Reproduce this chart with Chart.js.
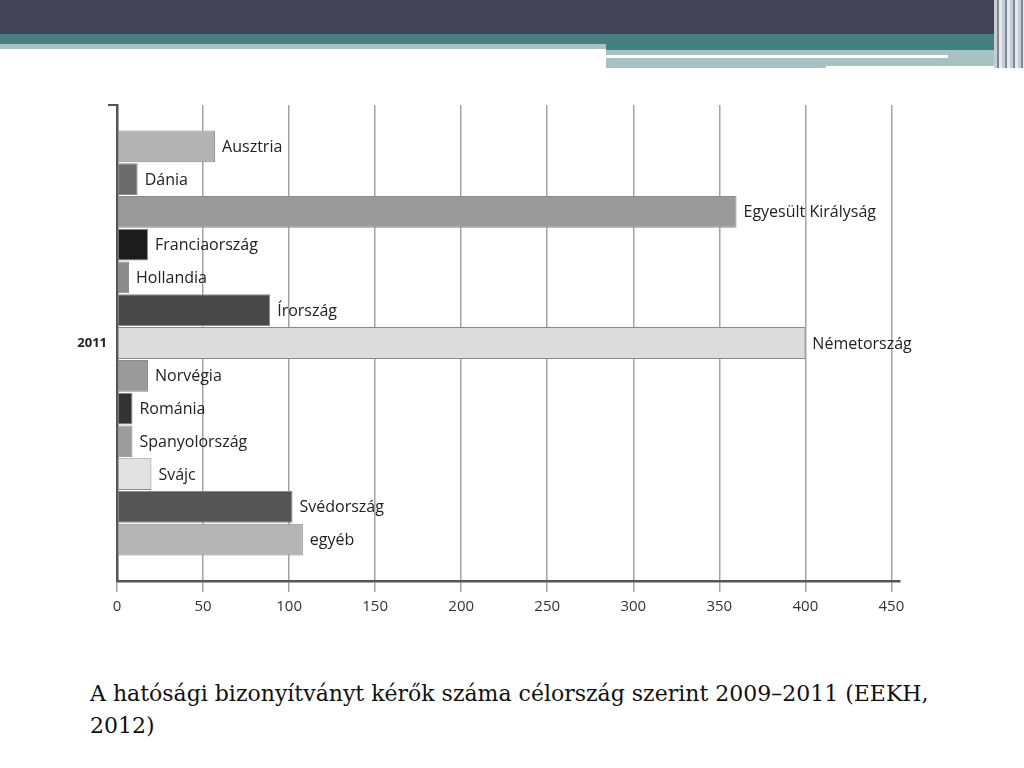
<!DOCTYPE html>
<html>
<head>
<meta charset="utf-8">
<script src="https://cdn.jsdelivr.net/npm/chart.js@4"></script>
<style>
  body { margin: 0; width: 1024px; height: 768px; position: relative; background: #fff; overflow: hidden; }
  .band { position: absolute; }
  #chartBox { position: absolute; left: 0; top: 0; width: 1024px; height: 660px; }
  .caption { position: absolute; left: 90px; top: 678px; white-space: nowrap; font-family: "DejaVu Serif", serif; font-size: 22px; line-height: 32px; color: #111; }
</style>
</head>
<body>
<div class="band" style="left:0;top:0;width:1024px;height:34px;background:#434357"></div>
<div class="band" style="left:0;top:34px;width:1024px;height:10px;background:#44807f"></div>
<div class="band" style="left:0;top:44px;width:606px;height:5px;background:#a8c1c3"></div>
<div class="band" style="left:606px;top:44px;width:418px;height:6px;background:#44807f"></div>
<div class="band" style="left:606px;top:50px;width:400px;height:18px;background:#a8c1c3"></div>
<div class="band" style="left:606px;top:55px;width:342px;height:3px;background:#fff"></div>
<div class="band" style="left:826px;top:66px;width:180px;height:2px;background:#fff"></div>
<div class="band" style="left:994px;top:0;width:30px;height:68px;background:repeating-linear-gradient(90deg,#c8ccd4 0 3px,#7b8594 3px 5px,#e6e9ee 5px 8px)"></div>
<div id="chartBox"><canvas id="chart"></canvas></div>
<div class="caption">A hatósági bizonyítványt kérők száma célország szerint 2009–2011 (EEKH,<br>2012)</div>
<script>
const countries = ["Ausztria", "Dánia", "Egyesült Királyság", "Franciaország", "Hollandia", "Írország",
  "Németország", "Norvégia", "Románia", "Spanyolország", "Svájc", "Svédország", "egyéb"];
const requests = [57, 12, 360, 18, 7, 89, 400, 18, 9, 9, 20, 102, 108];
const barColors = ["#b3b3b3", "#6b6b6b", "#9a9a9a", "#1c1c1c", "#8c8c8c", "#474747", "#dcdcdc",
  "#9a9a9a", "#333333", "#9c9c9c", "#e2e2e2", "#555555", "#b5b5b5"];
const yearLabel = "2011";
const xTicks = [0, 50, 100, 150, 200, 250, 300, 350, 400, 450];

const barLabels = {
  id: "barLabels",
  afterDatasetsDraw(chart) {
    const ctx = chart.ctx;
    const meta = chart.getDatasetMeta(0);
    ctx.save();
    ctx.font = "16px 'Open Sans'";
    ctx.fillStyle = "#222";
    ctx.textBaseline = "middle";
    meta.data.forEach((bar, i) => {
      ctx.fillText(countries[i], bar.x + 7, bar.y + 1);
    });
    ctx.restore();
  },
};

new Chart(document.getElementById("chart"), {
  type: "bar",
  data: {
    datasets: [
      {
        data: requests.map((v, i) => ({ x: v, y: i })),
        backgroundColor: barColors,
        borderColor: "#8a8a8a",
        borderWidth: 1,
        borderSkipped: false,
        categoryPercentage: 1,
        barPercentage: 0.97,
      },
    ],
  },
  options: {
    indexAxis: "y",
    responsive: true,
    maintainAspectRatio: false,
    animation: false,
    layout: { padding: { top: 105, right: 124, left: 0, bottom: 0 } },
    plugins: { legend: { display: false }, tooltip: { enabled: false } },
    scales: {
      x: {
        type: "linear",
        min: 0,
        max: 455,
        afterFit: (scale) => { scale.height = 79; },
        afterBuildTicks: (scale) => { scale.ticks = xTicks.map((v) => ({ value: v })); },
        ticks: { padding: 6, color: "#333", font: { family: "Open Sans", size: 15 } },
        grid: { color: "#a3a3a3", lineWidth: 1.5, tickLength: 11, tickColor: "#a3a3a3" },
        border: { color: "#555", width: 2.5 },
      },
      y: {
        type: "linear",
        reverse: true,
        offset: false,
        min: -1.26,
        max: 13.26,
        afterFit: (scale) => { scale.width = 117; },
        afterBuildTicks: (scale) => { scale.ticks = [{ value: -1.26 }, { value: 6 }]; },
        ticks: {
          padding: 1,
          color: "#222",
          font: { family: "Open Sans", size: 13, weight: "bold" },
          callback: (v) => (v === 6 ? yearLabel : ""),
        },
        grid: {
          offset: false,
          drawOnChartArea: false,
          tickLength: 9,
          color: (c) => (c.tick && c.tick.value === -1.26 ? "#555" : "rgba(0,0,0,0)"),
          lineWidth: 2,
        },
        border: { color: "#555", width: 2.5 },
      },
    },
  },
  plugins: [barLabels],
});
</script>
</body>
</html>
